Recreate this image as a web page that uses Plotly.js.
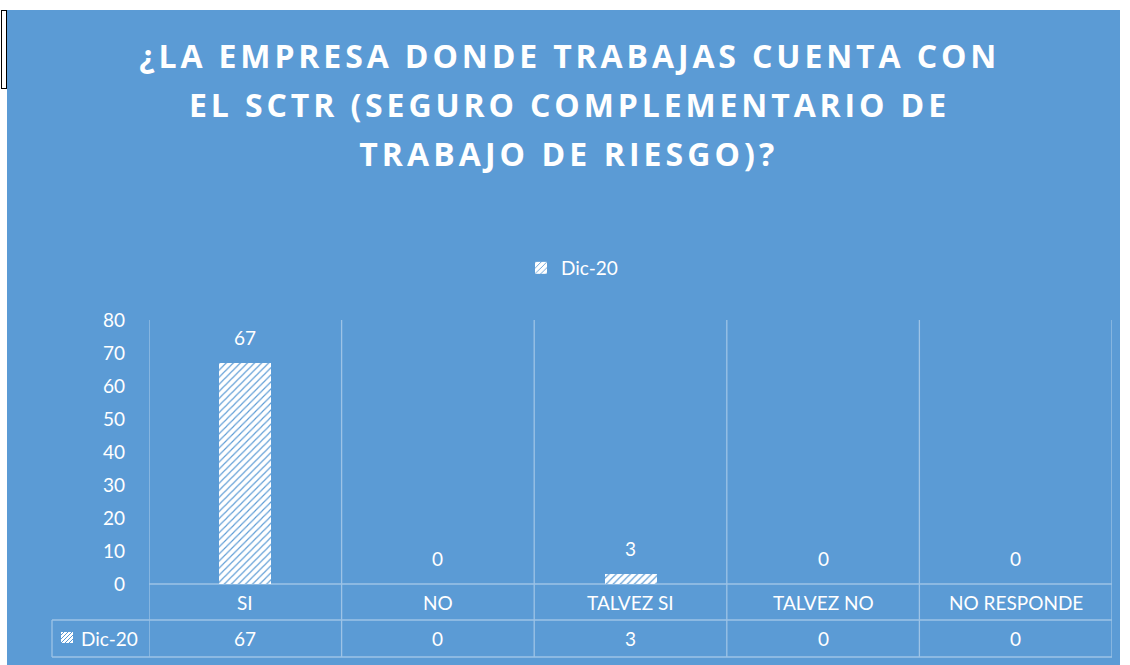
<!DOCTYPE html>
<html>
<head>
<meta charset="utf-8">
<script src="https://cdn.plot.ly/plotly-3.0.1.min.js"></script>
<style>
  html, body { margin: 0; padding: 0; background: #ffffff; width: 1130px; height: 665px; overflow: hidden; }
  #frame { position: absolute; left: 1px; top: 10px; width: 4px; height: 77px; border: 1px solid #000; }
  #chart { position: absolute; left: 7px; top: 10px; width: 1113px; height: 655px; }
</style>
</head>
<body>
<div id="frame"></div>
<div id="chart"></div>
<script>
// ---- data ----
const categories = ["SI", "NO", "TALVEZ SI", "TALVEZ NO", "NO RESPONDE"];
const seriesName = "Dic-20";
const values = [67, 0, 3, 0, 0];
const yTicks = [0, 10, 20, 30, 40, 50, 60, 70, 80];
const titleLines = [
  "¿LA EMPRESA DONDE TRABAJAS CUENTA CON",
  "EL SCTR (SEGURO COMPLEMENTARIO DE",
  "TRABAJO DE RIESGO)?"
];

// ---- styling / geometry ----
const BG = "#5B9BD5";
const GRID = "#9DC3E6";
const FONT = "Lato, 'Open Sans', sans-serif";
const TFONT = "'Open Sans', Lato, sans-serif";
const W = 1113, H = 655, OX = 7, OY = 10;
const M = { l: 142, r: 8, t: 310, b: 81 };
const PW = W - M.l - M.r, PH = H - M.t - M.b;
const px = xp => (xp - OX - M.l) / PW;          // page x -> paper x
const py = yp => (H - M.b - (yp - OY)) / PH;    // page y -> paper y

const n = categories.length;
const shapes = [];
const line = (x0, y0, x1, y1, xref) => ({
  type: "line", xref: xref || "paper", yref: "paper",
  x0: x0, x1: x1, y0: y0, y1: y1, layer: "below",
  line: { color: GRID, width: 1.3 }
});
for (let i = 0; i <= n; i++) {
  shapes.push(line(i - 0.5, py(320), i - 0.5, py(657), "x"));
}
shapes.push(line(-0.5, py(584), n - 0.5, py(584), "x"));
shapes.push({ ...line(px(52), py(620), 1, py(620)), x1: px(1112) });
shapes.push({ ...line(px(52), py(657), 1, py(657)), x1: px(1112) });
shapes.push(line(px(52), py(620), px(52), py(657)));
// swatch in table
shapes.push({ type: "rect", xref: "paper", yref: "paper",
  x0: px(61), x1: px(73), y0: py(643), y1: py(632),
  fillcolor: "#ffffff", line: { width: 0 } });
let sw = "";
for (let k = -2; k <= 2; k++) {
  const a = 61 + k * 4, b = a + 12;
  const xa = Math.max(a, 61), xb = Math.min(b, 73);
  if (xb <= xa) continue;
  const ya = 643 - (xa - a), yb = 643 - (xb - a);
  sw += `M${px(xa)},${py(ya)}L${px(xb)},${py(yb)}`;
}
shapes.push({ type: "path", xref: "paper", yref: "paper", path: sw,
  line: { color: BG, width: 1 } });

const annotations = [];
const titleY = [55, 104, 153];
titleLines.forEach((t, i) => annotations.push({
  text: t, xref: "paper", yref: "paper", x: px(571), y: py(titleY[i]),
  xanchor: "center", yanchor: "middle", showarrow: false,
  font: { family: TFONT, size: 32, color: "#ffffff", weight: "bold" }
}));
categories.forEach((c, i) => annotations.push({
  text: String(values[i]), x: c, y: values[i], xref: "x", yref: "y",
  xanchor: "center", yanchor: "bottom", yshift: 12, showarrow: false,
  font: { family: FONT, size: 19, color: "#ffffff" }
}));
categories.forEach((c, i) => {
  annotations.push({
    text: c, x: c, y: 0, xref: "x", yref: "paper",
    xanchor: "center", yanchor: "middle", yshift: -18, showarrow: false,
    font: { family: FONT, size: 19, color: "#ffffff" }
  });
  annotations.push({
    text: String(values[i]), x: c, y: 0, xref: "x", yref: "paper",
    xanchor: "center", yanchor: "middle", yshift: -54, showarrow: false,
    font: { family: FONT, size: 19, color: "#ffffff" }
  });
});
annotations.push({
  text: seriesName, x: px(79), y: 0, xref: "paper", yref: "paper",
  xanchor: "left", yanchor: "middle", yshift: -54, showarrow: false,
  font: { family: FONT, size: 19, color: "#ffffff" }
});

const trace = {
  type: "bar", x: categories, y: values, name: seriesName,
  width: 0.27,
  marker: {
    color: "#ffffff",
    line: { width: 0 },
    pattern: { shape: "/", bgcolor: "#ffffff", fgcolor: BG, size: 5, solidity: 0.22 }
  },
  hoverinfo: "skip"
};

const layout = {
  width: W, height: H,
  margin: M,
  paper_bgcolor: BG, plot_bgcolor: BG,
  font: { family: FONT, size: 19, color: "#ffffff" },
  showlegend: true,
  legend: {
    orientation: "h", x: px(572), xanchor: "center", y: py(268), yanchor: "middle",
    font: { family: FONT, size: 19, color: "#ffffff" }, itemwidth: 30,
    bgcolor: "rgba(0,0,0,0)"
  },
  xaxis: {
    type: "category", range: [-0.5, n - 0.5], showticklabels: false,
    showgrid: false, zeroline: false, showline: false, ticks: "", fixedrange: true
  },
  yaxis: {
    range: [0, 80], tickvals: yTicks, showgrid: false, zeroline: false,
    showline: false, ticks: "", ticklabelstandoff: 23,
    tickfont: { family: FONT, size: 19, color: "#ffffff" }, fixedrange: true
  },
  shapes: shapes,
  annotations: annotations,
  bargap: 0
};

Plotly.newPlot("chart", [trace], layout, { displayModeBar: false, staticPlot: true }).then(() => {
  const targets = [857, 757, 415];
  const texts = document.querySelectorAll("#chart .annotation-text");
  for (let i = 0; i < titleLines.length; i++) {
    const el = texts[i];
    if (!el) continue;
    const w = el.getComputedTextLength();
    const chars = titleLines[i].length;
    const sp = (targets[i] - w) / (chars - 1);
    el.style.letterSpacing = sp.toFixed(2) + "px";
    el.setAttribute("dx", (sp / 2).toFixed(2) * -1);
  }
});
</script>
</body>
</html>
